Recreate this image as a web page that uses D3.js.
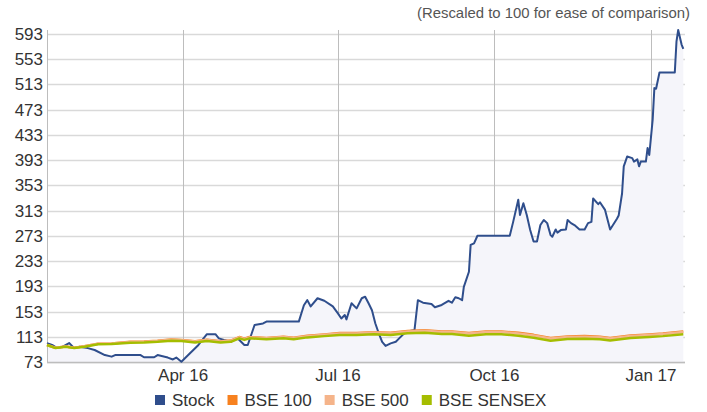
<!doctype html>
<html>
<head>
<meta charset="utf-8">
<style>
  html, body { margin: 0; padding: 0; background: #fff; }
  svg { display: block; font-family: "Liberation Sans", Arial, sans-serif; }
</style>
</head>
<body>
<script src="https://cdn.jsdelivr.net/npm/d3@7"></script>
<svg id="chart" width="707" height="412"></svg>
<script>
// stock, rescaled to 100
const stockDates = [
  '2016-01-12','2016-01-15','2016-01-18','2016-01-21','2016-01-25','2016-01-28','2016-01-31','2016-02-05',
  '2016-02-09','2016-02-15','2016-02-19','2016-02-21','2016-03-07','2016-03-09','2016-03-15','2016-03-17',
  '2016-03-23','2016-03-26','2016-03-28','2016-03-31','2016-04-04','2016-04-10','2016-04-15','2016-04-20',
  '2016-04-22','2016-04-25','2016-04-29','2016-05-03','2016-05-07','2016-05-09','2016-05-13','2016-05-18',
  '2016-05-20','2016-06-08','2016-06-11','2016-06-13','2016-06-15','2016-06-19','2016-06-23','2016-06-28',
  '2016-07-01','2016-07-03','2016-07-05','2016-07-06','2016-07-09','2016-07-12','2016-07-15','2016-07-17',
  '2016-07-19','2016-07-21','2016-07-23','2016-07-25','2016-07-27','2016-07-29','2016-08-01','2016-08-04',
  '2016-08-06','2016-08-09','2016-08-13','2016-08-15','2016-08-17','2016-08-20','2016-08-25','2016-08-27',
  '2016-08-31','2016-09-04','2016-09-06','2016-09-08','2016-09-10','2016-09-12','2016-09-13','2016-09-16',
  '2016-09-17','2016-09-19','2016-09-21','2016-10-10','2016-10-12','2016-10-15','2016-10-16','2016-10-18',
  '2016-10-20','2016-10-22','2016-10-24','2016-10-26','2016-10-28','2016-10-30','2016-11-01','2016-11-03',
  '2016-11-04','2016-11-06','2016-11-07','2016-11-09','2016-11-12','2016-11-13','2016-11-15','2016-11-17',
  '2016-11-20','2016-11-23','2016-11-25','2016-11-27','2016-11-28','2016-12-01','2016-12-02','2016-12-05',
  '2016-12-08','2016-12-12','2016-12-13','2016-12-15','2016-12-16','2016-12-18','2016-12-21','2016-12-22',
  '2016-12-24','2016-12-25','2016-12-26','2016-12-29','2016-12-30','2016-12-31','2017-01-02','2017-01-03',
  '2017-01-04','2017-01-06','2017-01-15','2017-01-16','2017-01-17','2017-01-19','2017-01-20'
];
const stockValues = [
  103, 100, 95, 97, 103, 95, 97, 95,
  92, 84, 81.5, 84, 84, 80.5, 80.5, 84,
  80, 77, 80, 73.5, 84, 100, 117, 117,
  110.5, 108, 105, 110.5, 100, 100, 131.7, 134,
  137, 137, 163, 171, 161, 174, 170, 161,
  150, 142, 147.5, 140.5, 166, 158, 174, 176.5,
  166, 155, 134, 118.5, 105, 98.5, 102.5, 105,
  110.5, 118.5, 122.6, 123.5, 171, 167, 165, 159.7,
  163.4, 170, 167, 175.6, 174, 171, 192, 216,
  258.5, 261, 273, 273, 295, 330, 306, 324.5,
  306, 282, 264, 264, 290, 298, 293, 274,
  271.5, 283, 278, 282, 283, 298, 293, 290,
  283, 283, 293, 295, 332, 323, 326, 314,
  283, 300, 305, 340, 383, 398.5, 396, 390.5,
  394, 383, 390.5, 390.5, 412, 401, 457, 507,
  506, 531.6, 531.6, 581, 599, 576, 569
];

// benchmark indices, same dates for all three
const indexDates = [
  '2016-01-12','2016-01-17','2016-01-23','2016-01-28','2016-02-03','2016-02-11','2016-02-19','2016-03-01',
  '2016-03-09','2016-03-17','2016-03-25','2016-03-31','2016-04-08','2016-04-15','2016-04-23','2016-04-29',
  '2016-05-04','2016-05-07','2016-05-10','2016-05-20','2016-05-30','2016-06-05','2016-06-13','2016-06-23',
  '2016-07-02','2016-07-12','2016-07-22','2016-08-01','2016-08-11','2016-08-21','2016-08-31','2016-09-06',
  '2016-09-16','2016-09-26','2016-10-05','2016-10-15','2016-10-24','2016-11-03','2016-11-13','2016-11-23',
  '2016-12-02','2016-12-08','2016-12-20','2016-12-31','2017-01-08','2017-01-20'
];
const bse100Values = [
  100, 95.5, 97.5, 95.5, 98, 102, 102.5, 105,
  105.5, 106.5, 108.5, 108, 106, 108.3, 106, 107,
  112.5, 110, 112.5, 111.2, 113, 111.5, 114.5, 116.7,
  118.8, 118.8, 120.2, 119.3, 122, 123.2, 121.2, 121.4,
  118.8, 121.2, 121.5, 119.2, 116, 111, 113.5, 114,
  113, 111, 115, 116.7, 118.3, 121.5
];
const bse500Values = [
  100, 95.4, 97.4, 95.4, 97.8, 101.8, 102.3, 104.7,
  105.2, 106.2, 108.1, 107.6, 105.6, 107.9, 105.6, 106.6,
  112.1, 109.6, 112.1, 110.8, 112.5, 111, 114, 116.2,
  118.2, 118.2, 119.6, 118.6, 121.3, 122.4, 120.4, 120.6,
  118, 120.4, 120.6, 118.3, 115.1, 110.2, 112.7, 113.2,
  112.2, 110.2, 114.2, 115.9, 117.4, 120.6
];
const sensexValues = [
  100, 95, 97, 95, 97, 101, 101.5, 103.6,
  104, 105, 106.8, 106.3, 104, 106.3, 104, 105,
  110.5, 108, 110.5, 109, 110.5, 109, 112, 114,
  115.8, 115.8, 117, 115.8, 118.5, 119.5, 117.4, 117.4,
  114.7, 117, 117, 114.7, 111.5, 106.8, 109.5, 110,
  109, 107, 111, 112.5, 114, 117
];

const yTicks = [73, 113, 153, 193, 233, 273, 313, 353, 393, 433, 473, 513, 553, 593];
const xTicks = ['2016-04-01', '2016-07-01', '2016-10-01', '2017-01-01'];
const xDomain = ['2016-01-12', '2017-01-21'];
const seriesNames = ['Stock', 'BSE 100', 'BSE 500', 'BSE SENSEX'];
const seriesColors = ['#2f4e8c', '#f7811f', '#f5b48a', '#a5bd00'];

const parse = d3.timeParse('%Y-%m-%d');
const stock = stockDates.map((d, i) => ({ date: parse(d), value: stockValues[i] }));
const idx = vals => indexDates.map((d, i) => ({ date: parse(d), value: vals[i] }));

const margin = { top: 30, right: 22, bottom: 50, left: 47 };
const width = 707, height = 412;

const svg = d3.select('#chart');

const xScale = d3.scaleTime()
  .domain(xDomain.map(parse))
  .range([margin.left, width - margin.right]);

const yScale = d3.scaleLinear()
  .domain([73, d3.max(stockValues)])
  .range([height - margin.bottom, margin.top]);

// horizontal grid
svg.append('g')
  .selectAll('line')
  .data(yTicks)
  .join('line')
  .attr('x1', margin.left)
  .attr('x2', width - margin.right)
  .attr('y1', d => Math.round(yScale(d)) + 0.5)
  .attr('y2', d => Math.round(yScale(d)) + 0.5)
  .attr('stroke', '#d9d9d9')
  .attr('stroke-width', 1.5);

// vertical grid
svg.append('g')
  .selectAll('line')
  .data(xTicks.map(parse))
  .join('line')
  .attr('x1', d => Math.round(xScale(d)) + 0.5)
  .attr('x2', d => Math.round(xScale(d)) + 0.5)
  .attr('y1', margin.top)
  .attr('y2', height - margin.bottom)
  .attr('stroke', '#bdbdbd')
  .attr('stroke-width', 1);

// stock area
svg.append('path')
  .datum(stock)
  .attr('fill', '#f5f5fa')
  .attr('d', d3.area()
    .x(d => xScale(d.date))
    .y0(yScale(73))
    .y1(d => yScale(d.value)));

// axis lines
svg.append('line')
  .attr('x1', margin.left + 0.5).attr('x2', margin.left + 0.5)
  .attr('y1', margin.top).attr('y2', height - margin.bottom)
  .attr('stroke', '#bdbdbd');
svg.append('line')
  .attr('x1', margin.left).attr('x2', width - margin.right)
  .attr('y1', Math.round(yScale(73)) + 0.5).attr('y2', Math.round(yScale(73)) + 0.5)
  .attr('stroke', '#bdbdbd').attr('stroke-width', 1.5);

const line = d3.line()
  .x(d => xScale(d.date))
  .y(d => yScale(d.value));

svg.append('path')
  .datum(stock)
  .attr('fill', 'none')
  .attr('stroke', seriesColors[0])
  .attr('stroke-width', 2)
  .attr('stroke-linejoin', 'round')
  .attr('d', line);

[bse100Values, bse500Values, sensexValues].forEach((vals, i) => {
  svg.append('path')
    .datum(idx(vals))
    .attr('fill', 'none')
    .attr('stroke', seriesColors[i + 1])
    .attr('stroke-width', 2.5)
    .attr('stroke-linejoin', 'round')
    .attr('d', line);
});

// y labels
svg.append('g')
  .selectAll('text')
  .data(yTicks)
  .join('text')
  .attr('x', margin.left - 4)
  .attr('y', d => yScale(d) + 6)
  .attr('text-anchor', 'end')
  .attr('font-size', 17)
  .attr('fill', '#333')
  .text(d => d);

// x labels
const fmt = d3.timeFormat('%b %y');
svg.append('g')
  .selectAll('text')
  .data(xTicks.map(parse))
  .join('text')
  .attr('x', d => xScale(d))
  .attr('y', height - margin.bottom + 19)
  .attr('text-anchor', 'middle')
  .attr('font-size', 17)
  .attr('fill', '#333')
  .text(d => fmt(d));

// subtitle
svg.append('text')
  .attr('x', 690)
  .attr('y', 18)
  .attr('text-anchor', 'end')
  .attr('font-size', 15)
  .attr('fill', '#555')
  .attr('textLength', 273)
  .attr('lengthAdjust', 'spacingAndGlyphs')
  .text('(Rescaled to 100 for ease of comparison)');

// legend
const legend = svg.append('g');
let lx = 155;
seriesNames.forEach((name, i) => {
  const g = legend.append('g').attr('transform', `translate(${lx},0)`);
  g.append('rect')
    .attr('x', 0).attr('y', 395)
    .attr('width', 10).attr('height', 10)
    .attr('fill', seriesColors[i]);
  const t = g.append('text')
    .attr('x', 17).attr('y', 406)
    .attr('font-size', 17)
    .attr('fill', '#333')
    .text(name);
  lx += 17 + t.node().getComputedTextLength() + 13;
});
</script>
</body>
</html>
